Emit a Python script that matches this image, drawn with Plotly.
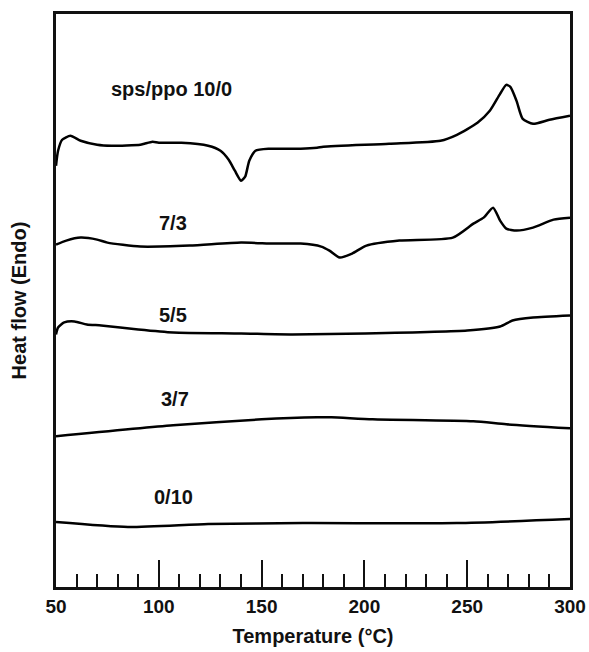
import plotly.graph_objects as go

# Heat flow curves (arbitrary units, endo up), temperature in °C
t_100 = [50, 51, 53, 57, 62, 70, 77, 91, 93, 97, 100, 111, 124, 130, 134, 137, 140, 142, 144, 147, 154, 169, 177, 180, 212, 237, 245, 255, 261, 266, 269, 271, 274, 277, 282, 290, 300]
h_100 = [422, 437, 448, 452, 447, 443, 442, 443, 444, 446, 445, 445, 442, 437, 428, 417, 407, 411, 427, 437, 439, 439, 440, 441, 444, 447, 453, 465, 477, 494, 503, 501, 487, 469, 464, 468, 472]

t_73 = [50, 55, 62, 70, 75, 91, 115, 140, 156, 169, 179, 183, 188, 194, 201, 217, 243, 253, 258, 262.6, 266, 269, 274, 282, 292, 300]
h_73 = [343, 347, 350, 348, 345, 341, 342, 345, 344, 344, 341, 337, 330, 334, 342, 347, 350, 364, 370, 380, 367, 359, 357, 360, 368, 370]

t_55 = [50, 51, 54, 59, 65, 72, 90, 107, 140, 165, 200, 250, 266, 272, 282, 300]
h_55 = [253, 260, 265, 266, 263, 262, 258, 255, 254, 253, 254, 257, 261, 267, 270, 272]

t_37 = [50, 107, 150, 177, 184, 204, 253, 269, 300]
h_37 = [151, 162, 168, 170, 170, 168, 166, 163, 159]

t_010 = [50, 85, 124, 170, 245, 300]
h_010 = [65, 60, 63, 64, 64, 68]

labels = ["sps/ppo 10/0", "7/3", "5/5", "3/7", "0/10"]
label_t = [106, 107, 107, 108, 107]
label_h = [499, 365, 272, 188, 90]

FONT = "Liberation Sans, Arial, sans-serif"

fig = go.Figure()
for t, h in [(t_100, h_100), (t_73, h_73), (t_55, h_55), (t_37, h_37), (t_010, h_010)]:
    fig.add_trace(go.Scatter(x=t, y=h, mode="lines",
                             line=dict(color="black", width=2.5, shape="spline", smoothing=0.6),
                             showlegend=False, hoverinfo="skip"))

for txt, x, y in zip(labels, label_t, label_h):
    fig.add_annotation(x=x, y=y, xref="x", yref="y", text="<b>" + txt + "</b>",
                       showarrow=False, font=dict(family=FONT, size=20, color="#111"))

fig.update_layout(
    width=589, height=652,
    margin=dict(l=56, r=19, t=14, b=65),
    paper_bgcolor="white", plot_bgcolor="white",
    font=dict(family=FONT, color="#111"),
)
fig.update_xaxes(
    range=[50, 300], showgrid=False, zeroline=False, automargin=False,
    showline=True, linecolor="#111", linewidth=2.5, mirror=True,
    ticks="inside", ticklen=27, tickwidth=2, tickcolor="#111",
    dtick=50, tick0=50,
    minor=dict(ticks="inside", ticklen=13, tickwidth=2, tickcolor="#111", dtick=10, tick0=50, showgrid=False),
    tickfont=dict(family=FONT, size=19, color="#111", weight="bold"),
    title=dict(text="<b>Temperature (°C)</b>", font=dict(family=FONT, size=20, color="#111"), standoff=14),
)
fig.update_yaxes(
    range=[0, 574], showgrid=False, zeroline=False, automargin=False,
    showline=True, linecolor="#111", linewidth=2.5, mirror=True,
    showticklabels=False, ticks="",
    title=dict(text="<b>Heat flow (Endo)</b>", font=dict(family=FONT, size=20, color="#111"), standoff=22),
)

fig.write_html("out.html")
